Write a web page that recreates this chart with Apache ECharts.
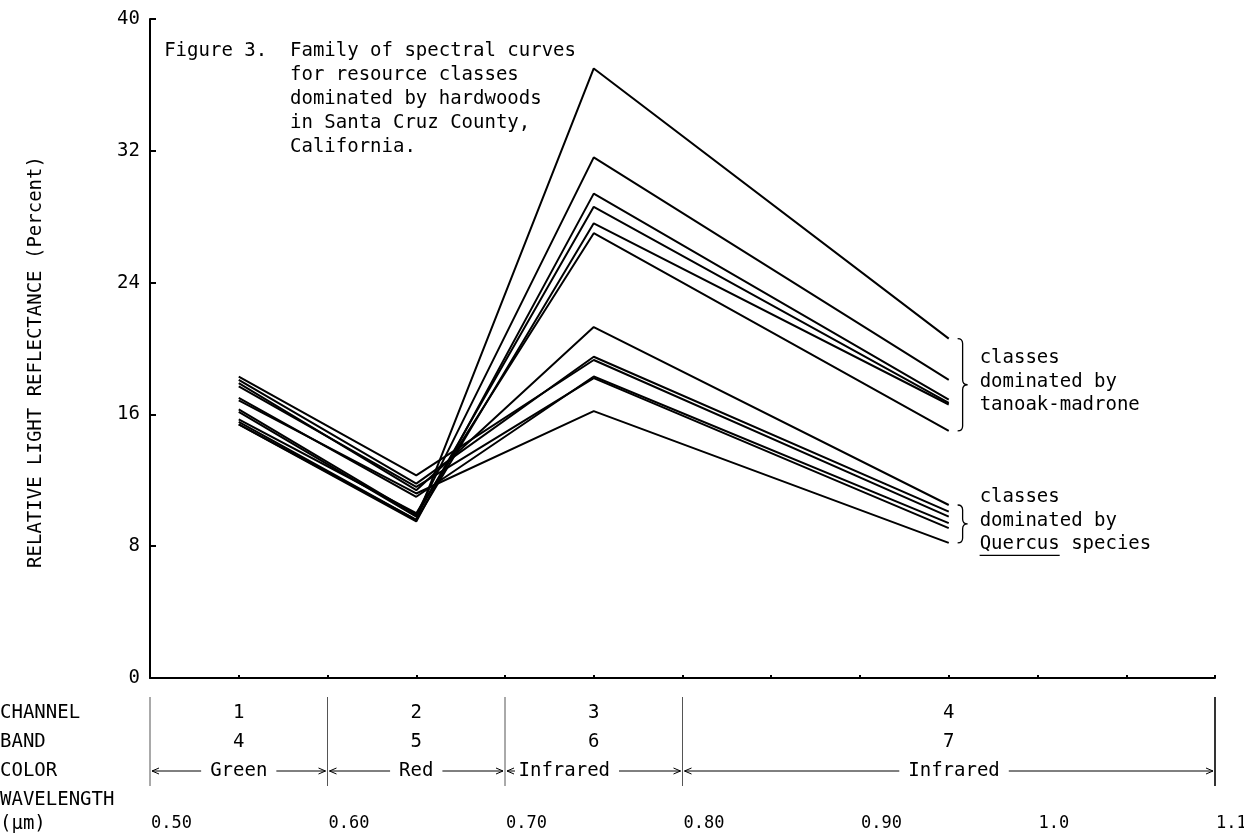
<!DOCTYPE html>
<html><head><meta charset="utf-8">
<script src="https://cdn.jsdelivr.net/npm/echarts@6/dist/echarts.min.js"></script>
<style>html,body{margin:0;padding:0;background:#fff}#c{width:1244px;height:838px}</style>
</head><body><div id="c"></div>
<script>
// ---- data ----
const channelWavelengths = [0.55, 0.65, 0.75, 0.95];
// resource classes dominated by tanoak-madrone (channels 1..4)
const tanoak1 = [15.55, 9.6, 37.0, 20.6];
const tanoak2 = [16.3, 9.9, 31.6, 18.1];
const tanoak3 = [15.4, 9.5, 29.4, 16.9];
const tanoak4 = [16.15, 9.8, 28.6, 16.7];
const tanoak5 = [15.4, 9.6, 27.6, 16.6];
const tanoak6 = [15.7, 10.0, 27.0, 15.0];
// resource classes dominated by Quercus species
const quercus1 = [17.9, 11.4, 21.3, 10.5];
const quercus2 = [18.1, 11.8, 19.5, 10.1];
const quercus3 = [18.3, 12.3, 19.3, 9.8];
const quercus4 = [17.0, 11.0, 18.3, 9.4];
const quercus5 = [17.7, 11.6, 18.2, 9.1];
const quercus6 = [16.85, 11.2, 16.2, 8.2];
const yTickLabels = [0, 8, 16, 24, 32, 40];
const channelLabels = ['1', '2', '3', '4'];
const bandLabels = ['4', '5', '6', '7'];
const colorLabels = ['Green', 'Red', 'Infrared', 'Infrared'];
const bandEdges = [0.5, 0.6, 0.7, 0.8, 1.1];
const wavelengthTicks = [0.5, 0.6, 0.7, 0.8, 0.9, 1.0, 1.1];
const wavelengthTickLabels = ['0.50', '0.60', '0.70', '0.80', '0.90', '1.0', '1.1'];
const rowHeaders = ['CHANNEL', 'BAND', 'COLOR', 'WAVELENGTH', '(\u03bcm)'];
const yTitle = 'RELATIVE LIGHT REFLECTANCE (Percent)';
const figureLabel = 'Figure 3.';
const titleLines = ['Family of spectral curves', 'for resource classes', 'dominated by hardwoods', 'in Santa Cruz County,', 'California.'];
const tanoakNote = ['classes', 'dominated by', 'tanoak-madrone'];
const quercusNote = ['classes', 'dominated by', 'Quercus species'];

const tanoakCurves = [tanoak1, tanoak2, tanoak3, tanoak4, tanoak5, tanoak6];
const quercusCurves = [quercus1, quercus2, quercus3, quercus4, quercus5, quercus6];
const allCurves = tanoakCurves.concat(quercusCurves);

const FONT = 'DejaVu Sans Mono';
const FS = 19;
const CW = FS * 0.602; // monospace advance
const chart = echarts.init(document.getElementById('c'));

const lineSeries = allCurves.map((vals, i) => ({
  type: 'line',
  name: 'class ' + (i + 1),
  data: vals.map((v, k) => [channelWavelengths[k], v]),
  symbol: 'none',
  lineStyle: { color: '#000', width: 2 },
  silent: true,
  z: 3
}));

function groupRange(curves) {
  const ends = curves.map(c => c[3]);
  return [Math.min(...ends), Math.max(...ends)];
}

const braceSeries = {
  type: 'custom',
  silent: true,
  data: [[0.955, ...groupRange(tanoakCurves)], [0.955, ...groupRange(quercusCurves)]],
  renderItem: function (params, api) {
    const p1 = api.coord([api.value(0), api.value(2)]);
    const p2 = api.coord([api.value(0), api.value(1)]);
    const x = p1[0], y1 = p1[1], y2 = p2[1];
    const ym = (y1 + y2) / 2, w = 10, r = 5, xm = x + w / 2;
    const path = `M${x},${y1} Q${xm},${y1} ${xm},${y1 + r} L${xm},${ym - r} Q${xm},${ym} ${x + w},${ym} ` +
      `Q${xm},${ym} ${xm},${ym + r} L${xm},${y2 - r} Q${xm},${y2} ${x},${y2}`;
    return { type: 'path', shape: { pathData: path }, style: { stroke: '#000', lineWidth: 1.3, fill: null } };
  }
};

const option = {
  animation: false,
  backgroundColor: '#fff',
  grid: { left: 150, right: 29, top: 19, bottom: 160 },
  xAxis: {
    type: 'value', min: 0.5, max: 1.1, interval: 0.05,
    axisLine: { lineStyle: { color: '#000', width: 2 } },
    axisTick: { show: true, inside: true, length: 3, lineStyle: { color: '#000', width: 2 } },
    axisLabel: { show: false },
    splitLine: { show: false }
  },
  yAxis: {
    type: 'value', min: 0, max: 40, interval: 8,
    axisLine: { show: true, lineStyle: { color: '#000', width: 2 } },
    axisTick: { show: true, inside: true, length: 6, lineStyle: { color: '#000', width: 2 } },
    axisLabel: { fontFamily: FONT, fontSize: FS, color: '#000', margin: 10,
      formatter: v => yTickLabels.includes(v) ? String(v) : '' },
    splitLine: { show: false }
  },
  series: [...lineSeries, braceSeries]
};
chart.setOption(option);

// ---- annotations (text and bottom table) ----
const px = v => chart.convertToPixel({ xAxisIndex: 0 }, v);
const py = v => chart.convertToPixel({ yAxisIndex: 0 }, v);
const g = [];
const txt = (x, y, s, align, extra) => g.push({ type: 'text', x, y, silent: true,
  style: Object.assign({ text: s, fontFamily: FONT, fontSize: FS, fill: '#000', align: align || 'left', verticalAlign: 'middle' }, extra || {}) });

// y-axis title
g.push({ type: 'text', x: 36, y: 362, rotation: Math.PI / 2, silent: true,
  style: { text: yTitle, fontFamily: FONT, fontSize: FS, fill: '#000', align: 'center', verticalAlign: 'middle' } });

// title block
const titleTop = 51, titleStep = 24, titleX = 290;
txt(titleX - 11 * CW, titleTop, figureLabel);
titleLines.forEach((s, i) => txt(titleX, titleTop + i * titleStep, s));

// group notes
const noteX = px(0.955) + 22;
const tRange = groupRange(tanoakCurves);
const qRange = groupRange(quercusCurves);
const tMid = py((tRange[0] + tRange[1]) / 2), qMid = py((qRange[0] + qRange[1]) / 2);
tanoakNote.forEach((s, i) => txt(noteX, tMid + (i - 1) * 23.5 - 3, s));
quercusNote.forEach((s, i) => txt(noteX, qMid + (i - 1) * 23.5 - 3, s));
// underline "Quercus"
const qY = qMid + 23.5 - 3 + 11;
g.push({ type: 'line', silent: true, shape: { x1: noteX, y1: qY, x2: noteX + 7 * CW, y2: qY }, style: { stroke: '#000', lineWidth: 1.3 } });

// bottom table
const rowY = [713, 742, 771, 800, 824];
rowHeaders.forEach((s, i) => txt(0, rowY[i], s));
bandEdges.forEach((e, i) => {
  const last = i === bandEdges.length - 1;
  g.push({ type: 'line', silent: true, shape: { x1: px(e), y1: 697, x2: px(e), y2: 786 },
    style: { stroke: last ? '#000' : '#555', lineWidth: last ? 1.6 : 1 } });
});
const arrowHead = (x, y, dir) => g.push({ type: 'polyline', silent: true,
  shape: { points: [[x - dir * 7, y - 3], [x, y], [x - dir * 7, y + 3]] }, style: { stroke: '#000', lineWidth: 1, fill: null } });
// where each colour name sits inside its band (fraction of band width)
const colorLabelAt = [0.5, 0.5, 0.33, 0.51];
channelWavelengths.forEach((w, i) => {
  const cx = px(w);
  txt(cx, rowY[0], channelLabels[i], 'center');
  txt(cx, rowY[1], bandLabels[i], 'center');
  const xl = px(bandEdges[i]) + 2, xr = px(bandEdges[i + 1]) - 2;
  const mid = xl + (xr - xl) * colorLabelAt[i];
  const half = colorLabels[i].length * CW / 2;
  txt(mid, rowY[2], colorLabels[i], 'center');
  g.push({ type: 'line', silent: true, shape: { x1: xl, y1: rowY[2], x2: Math.max(xl + 8, mid - half - 9), y2: rowY[2] }, style: { stroke: '#000', lineWidth: 1 } });
  g.push({ type: 'line', silent: true, shape: { x1: mid + half + 9, y1: rowY[2], x2: xr, y2: rowY[2] }, style: { stroke: '#000', lineWidth: 1 } });
  arrowHead(xl, rowY[2], -1);
  arrowHead(xr, rowY[2], 1);
});
wavelengthTicks.forEach((w, i) => {
  txt(px(w) + 1, rowY[4], wavelengthTickLabels[i], 'left', { fontSize: 17 });
});
chart.setOption({ graphic: g });
</script></body></html>
